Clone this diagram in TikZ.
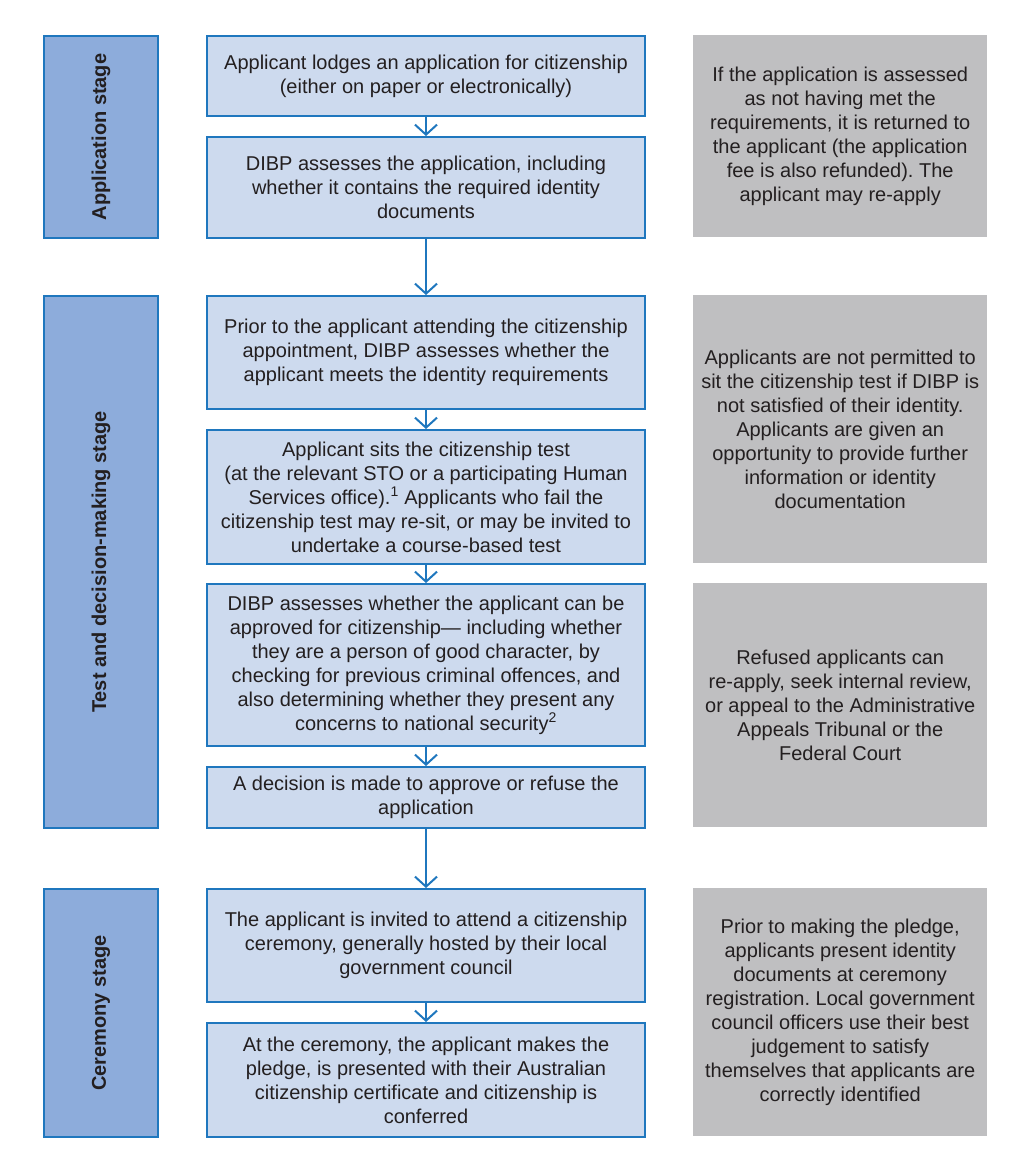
\documentclass[tikz,border=0pt]{standalone}
\usepackage{fontspec}
\setmainfont{Liberation Sans}
\usetikzlibrary{arrows.meta}
\definecolor{bordblue}{RGB}{31,119,190}
\definecolor{stagefill}{RGB}{141,172,219}
\definecolor{lightfill}{RGB}{205,218,238}
\definecolor{greyfill}{RGB}{191,191,193}
\definecolor{txt}{RGB}{35,31,32}
\frenchspacing
\begin{document}
\begin{tikzpicture}[x=1pt,y=-1pt,
  stagebox/.style={draw=bordblue, fill=stagefill, line width=2pt, inner sep=0pt, anchor=north west, minimum width=114pt},
  stagelabel/.style={rotate=90, font=\fontsize{20}{24}\selectfont\bfseries, text=txt},
  mainbox/.style={draw=bordblue, fill=lightfill, line width=2pt, inner sep=0pt, anchor=north west, minimum width=438pt, align=center, font=\fontsize{20}{24}\selectfont, text=txt},
  greybox/.style={fill=greyfill, inner sep=0pt, anchor=north west, minimum width=294pt, align=center, font=\fontsize{20}{24}\selectfont, text=txt},
  flow/.style={draw=bordblue, line width=2pt, -{Straight Barb[length=10pt,width=22pt,line width=2pt]}}]
\useasboundingbox (0,0) rectangle (1031,1171);
% stage boxes
\node[stagebox, minimum height=202pt] (s1) at (43,35) {};
\node[stagebox, minimum height=532pt] (s2) at (43,295) {};
\node[stagebox, minimum height=248pt] (s3) at (43,888) {};
\node[stagelabel] (l1) at (s1.center) {Application stage};
\node[stagelabel] (l2) at (s2.center) {Test and decision-making stage};
\node[stagelabel] (l3) at (s3.center) {Ceremony stage};
% main boxes
\node[mainbox, minimum height=80pt] (b1) at (206,35) {Applicant lodges an application for citizenship\\(either on paper or electronically)};
\node[mainbox, minimum height=101pt] (b2) at (206,136) {DIBP assesses the application, including\\whether it contains the required identity\\documents};
\node[mainbox, minimum height=113pt] (b3) at (206,295) {Prior to the applicant attending the citizenship\\appointment, DIBP assesses whether the\\applicant meets the identity requirements};
\node[mainbox, minimum height=134pt] (b4) at (206,429) {Applicant sits the citizenship test\\(at the relevant STO or a participating Human\\Services office).\textsuperscript{1} Applicants who fail the\\citizenship test may re-sit, or may be invited to\\undertake a course-based test};
\node[mainbox, minimum height=162pt] (b5) at (206,583) {DIBP assesses whether the applicant can be\\approved for citizenship--- including whether\\they are a person of good character, by\\checking for previous criminal offences, and\\also determining whether they present any\\concerns to national security\textsuperscript{2}};
\node[mainbox, minimum height=61pt] (b6) at (206,766) {A decision is made to approve or refuse the\\application};
\node[mainbox, minimum height=113pt] (b7) at (206,888) {The applicant is invited to attend a citizenship\\ceremony, generally hosted by their local\\government council};
\node[mainbox, minimum height=114pt] (b8) at (206,1022) {At the ceremony, the applicant makes the\\pledge, is presented with their Australian\\citizenship certificate and citizenship is\\conferred};
% grey boxes
\node[greybox, minimum height=202pt] (g1) at (693,35) {If the application is assessed\\as not having met the\\requirements, it is returned to\\the applicant (the application\\fee is also refunded). The\\applicant may re-apply};
\node[greybox, minimum height=268pt] (g2) at (693,295) {Applicants are not permitted to\\sit the citizenship test if DIBP is\\not satisfied of their identity.\\Applicants are given an\\opportunity to provide further\\information or identity\\documentation};
\node[greybox, minimum height=244pt] (g3) at (693,583) {Refused applicants can\\re-apply, seek internal review,\\or appeal to the Administrative\\Appeals Tribunal or the\\Federal Court};
\node[greybox, minimum height=248pt] (g4) at (693,888) {Prior to making the pledge,\\applicants present identity\\documents at ceremony\\registration. Local government\\council officers use their best\\judgement to satisfy\\themselves that applicants are\\correctly identified};
% connectors
\draw[flow] (b1.south) -- (b2.north);
\draw[flow] (b2.south) -- (b3.north);
\draw[flow] (b3.south) -- (b4.north);
\draw[flow] (b4.south) -- (b5.north);
\draw[flow] (b5.south) -- (b6.north);
\draw[flow] (b6.south) -- (b7.north);
\draw[flow] (b7.south) -- (b8.north);
\end{tikzpicture}
\end{document}
